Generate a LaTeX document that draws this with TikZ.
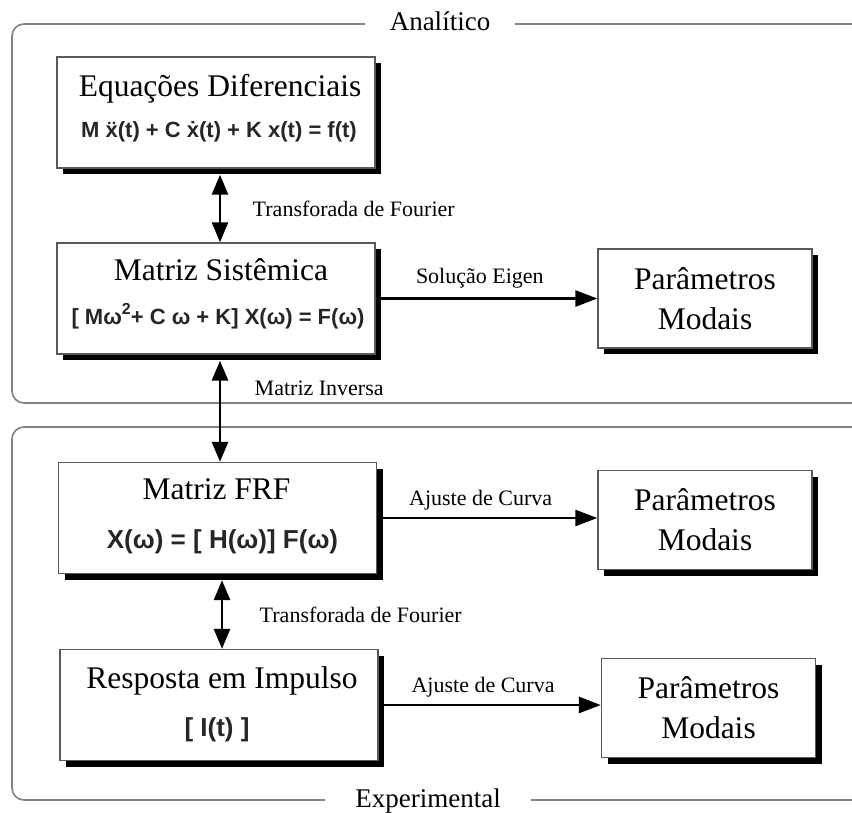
\documentclass[tikz,border=0pt]{standalone}
\usepackage{fontspec}
\setmainfont{Liberation Serif}
\newfontfamily\eqfont{Liberation Sans}
\usetikzlibrary{arrows.meta,shadows}

\begin{document}
\begin{tikzpicture}[
    x=1pt, y=-1pt,
    frameline/.style={draw=black!50, line width=1.6pt, rounded corners=12pt},
    framelabel/.style={fill=white, inner ysep=2pt, anchor=base, font=\fontsize{27}{30}\selectfont},
    blockbox/.style={draw=black!65, fill=white, line width=1.4pt, inner sep=0pt,
        minimum width=318pt, minimum height=111pt,
        drop shadow={shadow xshift=6pt, shadow yshift=-6pt, opacity=1, fill=black}},
    modalbox/.style={blockbox, minimum width=214pt, minimum height=99pt, align=center,
        font=\fontsize{31.5}{40}\selectfont},
    titletext/.style={anchor=base, font=\fontsize{31.5}{36}\selectfont},
    eqtext/.style={anchor=base, text=black!85, font=\eqfont\bfseries\fontsize{22}{26}\selectfont},
    bigeq/.style={eqtext, font=\eqfont\bfseries\fontsize{26}{30}\selectfont},
    steplabel/.style={font=\fontsize{22}{26}\selectfont},
    flowarrow/.style={draw=black, line width=2.8pt, -{Triangle[length=22pt,width=16pt]}},
    bothways/.style={flowarrow, {Triangle[length=20pt,width=16pt]}-{Triangle[length=20pt,width=16pt]}}
]
  \useasboundingbox (0,0) rectangle (852,812);
  \clip (0,0) rectangle (852,812);

  % grupos
  \draw[frameline] (12,24) rectangle (880,403);
  \node[framelabel, inner xsep=25pt] (analitico) at (440,30) {Analítico};
  \draw[frameline] (12,427) rectangle (880,800);
  \node[framelabel, inner xsep=30pt] (experimental) at (428,807) {Experimental};

  % blocos da esquerda
  \node[blockbox] (eqdif) at (216,112.5) {};
  \node[titletext] (eqdifT) at ([xshift=4pt,yshift=-40pt]eqdif.north) {Equações Diferenciais};
  \node[eqtext] (eqdifE) at ([xshift=3pt,yshift=-81pt]eqdif.north) {M ẍ(t) + C ẋ(t) + K x(t) = f(t)};

  \node[blockbox] (sis) at (216,298.5) {};
  \node[titletext] (sisT) at ([xshift=5pt,yshift=-38pt]sis.north) {Matriz Sistêmica};
  \node[eqtext] (sisE) at ([xshift=2pt,yshift=-82pt]sis.north)
      {[ Mω\raisebox{.45em}{\fontsize{16}{16}\selectfont 2}+ C ω + K] X(ω) = F(ω)};

  \node[blockbox] (frf) at (217.5,518) {};
  \node[titletext] (frfT) at ([xshift=-1pt,yshift=-38pt]frf.north) {Matriz FRF};
  \node[bigeq] (frfE) at ([xshift=5pt,yshift=-87pt]frf.north) {X(ω) = [ H(ω)] F(ω)};

  \node[blockbox] (imp) at (219,705) {};
  \node[titletext] (impT) at ([xshift=3pt,yshift=-40pt]imp.north) {Resposta em Impulso};
  \node[bigeq] (impE) at ([xshift=-2pt,yshift=-88pt]imp.north) {[ I(t) ]};

  % parametros modais
  \node[modalbox] (modal1) at (705,298.5) {Parâmetros\\Modais};
  \node[modalbox] (modal2) at (705,520) {Parâmetros\\Modais};
  \node[modalbox] (modal3) at (708.5,708) {Parâmetros\\Modais};

  % ligacoes
  \draw[bothways] ([xshift=4pt,yshift=-6pt]eqdif.south) --
      node[steplabel, anchor=west, xshift=28pt] (fourier1) {Transforada de Fourier} ([xshift=4pt]sis.north);
  \draw[bothways] ([xshift=4pt,yshift=-6pt]sis.south) --
      node[steplabel, anchor=west, xshift=30pt, pos=.27] (inversa) {Matriz Inversa} ([xshift=2.5pt]frf.north);
  \draw[bothways] ([xshift=4.5pt,yshift=-6pt]frf.south) --
      node[steplabel, anchor=west, xshift=33pt] (fourier2) {Transforada de Fourier} ([xshift=3pt]imp.north);

  \draw[flowarrow] (sis.east) --
      node[steplabel, anchor=base, yshift=15pt, pos=.47] (eigen) {Solução Eigen} (sis.east -| modal1.west);
  \draw[flowarrow] (frf.east) --
      node[steplabel, anchor=base, yshift=13pt, pos=.47] (curva1) {Ajuste de Curva} (frf.east -| modal2.west);
  \draw[flowarrow] (imp.east) --
      node[steplabel, anchor=base, yshift=13pt, pos=.47] (curva2) {Ajuste de Curva} (imp.east -| modal3.west);
\end{tikzpicture}
\end{document}
